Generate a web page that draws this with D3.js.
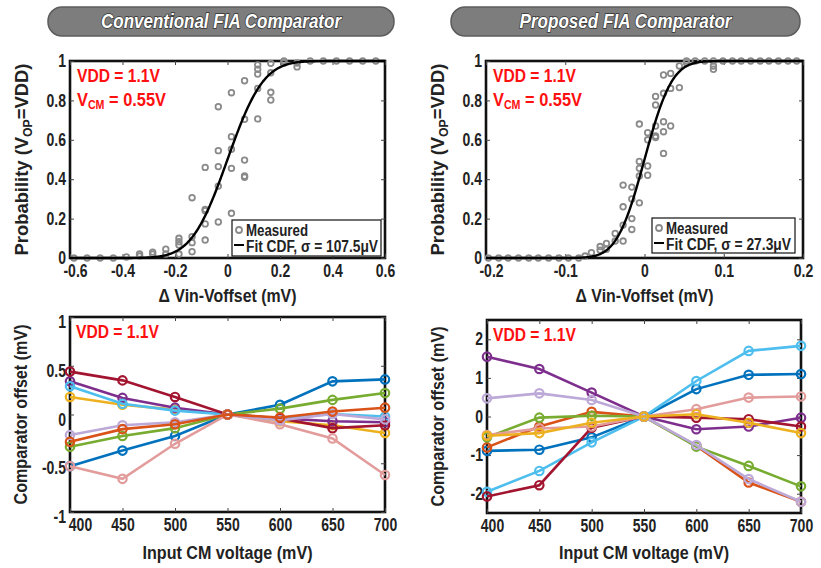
<!DOCTYPE html>
<html>
<head>
<meta charset="utf-8">
<script src="https://cdn.jsdelivr.net/npm/d3@7"></script>
<style>
  body { margin: 0; background: #fff; }
  text { font-family: "Liberation Sans Narrow", "Arial Narrow", "Liberation Sans", Arial, sans-serif; font-weight: bold; }
</style>
</head>
<body>
<svg id="chart" width="821" height="568"></svg>
<script>
// ---- data ----
const convXTicks = [-0.6, -0.4, -0.2, 0, 0.2, 0.4, 0.6];
const propXTicks = [-0.2, -0.1, 0, 0.1, 0.2];
const probTicks = [0, 0.2, 0.4, 0.6, 0.8, 1];
const cmVoltage = [400, 450, 500, 550, 600, 650, 700];
const convOffTicks = [-1, -0.5, 0, 0.5, 1];
const propOffTicks = [-2, -1, 0, 1, 2];

const convSigma = 0.1075;   // mV
const propSigma = 0.0273;   // mV

// measured probability, conventional comparator [dVin (mV), P]
const convMeasured = [
  [-0.585, 0], [-0.535, 0], [-0.485, 0], [-0.435, 0], [-0.385, 0.005],
  [-0.335, 0.02], [-0.335, 0.01], [-0.285, 0.03], [-0.285, 0.02],
  [-0.235, 0.045], [-0.235, 0.02],
  [-0.185, 0.10], [-0.185, 0.083], [-0.185, 0.066], [-0.185, 0.02],
  [-0.135, 0.306], [-0.135, 0.108], [-0.135, 0.078], [-0.135, 0.032],
  [-0.085, 0.46], [-0.085, 0.247], [-0.085, 0.24], [-0.085, 0.173], [-0.085, 0.091],
  [-0.035, 0.768], [-0.035, 0.545], [-0.035, 0.464], [-0.035, 0.365], [-0.035, 0.183],
  [0.015, 0.839], [0.015, 0.616], [0.015, 0.552], [0.015, 0.455], [0.015, 0.227],
  [0.065, 0.90], [0.065, 0.704], [0.065, 0.497], [0.065, 0.416], [0.065, 0.41],
  [0.115, 0.98], [0.115, 0.958], [0.115, 0.934], [0.115, 0.861], [0.115, 0.706],
  [0.165, 0.988], [0.165, 0.94], [0.165, 0.841], [0.165, 0.802],
  [0.215, 1], [0.215, 0.99], [0.265, 0.99], [0.265, 0.97],
  [0.315, 1], [0.365, 1], [0.415, 1], [0.465, 1], [0.515, 1], [0.565, 1]
];

// measured probability, proposed comparator [dVin (mV), P]
const propMeasured = [
  [-0.197, 0], [-0.184, 0], [-0.172, 0], [-0.159, 0], [-0.146, 0], [-0.134, 0],
  [-0.121, 0], [-0.108, 0], [-0.096, 0], [-0.083, 0], [-0.075, 0.01],
  [-0.067, 0.027], [-0.056, 0.058], [-0.056, 0.04], [-0.048, 0.074], [-0.048, 0.044],
  [-0.037, 0.125], [-0.037, 0.086],
  [-0.027, 0.37], [-0.027, 0.26], [-0.027, 0.167], [-0.027, 0.086],
  [-0.016, 0.36], [-0.016, 0.30], [-0.016, 0.20], [-0.016, 0.145],
  [-0.0065, 0.68], [-0.0065, 0.49], [-0.0065, 0.455], [-0.0065, 0.416], [-0.0065, 0.28],
  [0.004, 0.636], [0.004, 0.60], [0.004, 0.467], [0.004, 0.42],
  [0.014, 0.82], [0.014, 0.777], [0.014, 0.67], [0.014, 0.619], [0.014, 0.612],
  [0.024, 0.929], [0.024, 0.836], [0.024, 0.692], [0.024, 0.641], [0.024, 0.531],
  [0.033, 0.937], [0.033, 0.861], [0.033, 0.67],
  [0.044, 0.975], [0.044, 0.865], [0.053, 1], [0.053, 0.99],
  [0.064, 1], [0.076, 1], [0.087, 1], [0.087, 0.975], [0.087, 0.958],
  [0.099, 1], [0.111, 1], [0.122, 1], [0.134, 1], [0.146, 1], [0.157, 1],
  [0.169, 1], [0.181, 1], [0.192, 1]
];

// comparator offset (mV) vs input CM voltage, one row per chip
const convOffset = [
  [-0.53, -0.37, -0.22, 0, 0.10, 0.34, 0.36],
  [0.18, 0.10, 0.05, 0, -0.07, -0.11, -0.19],
  [0.34, 0.17, 0.07, 0, -0.04, -0.07, -0.08],
  [-0.33, -0.22, -0.14, 0, 0.06, 0.15, 0.22],
  [0.29, 0.11, 0.04, 0, -0.04, 0.005, -0.02],
  [0.44, 0.35, 0.18, 0, -0.04, -0.14, -0.11],
  [-0.53, -0.66, -0.30, 0, -0.10, -0.245, -0.62],
  [-0.21, -0.11, -0.08, 0, -0.06, 0.005, -0.05],
  [-0.28, -0.15, -0.10, 0, -0.03, 0.03, 0.07]
];
const propOffset = [
  [-0.89, -0.86, -0.54, 0, 0.71, 1.08, 1.10],
  [-0.80, -0.26, 0.12, 0, -0.76, -1.71, -2.21],
  [1.55, 1.23, 0.62, 0, -0.33, -0.26, -0.03],
  [-0.54, -0.03, 0.02, 0, -0.78, -1.28, -1.81],
  [-1.95, -1.41, -0.67, 0, 0.92, 1.70, 1.83],
  [-2.07, -1.78, -0.29, 0, -0.03, -0.07, -0.26],
  [-0.48, -0.31, -0.26, 0, 0.19, 0.49, 0.52],
  [0.47, 0.60, 0.43, 0, -0.74, -1.62, -2.21],
  [-0.50, -0.43, -0.16, 0, 0.06, -0.16, -0.43]
];
const convColors = ["#0072BD", "#EDB120", "#7E2F8E", "#77AC30", "#4DBEEE", "#A2142F", "#E39C9C", "#BDA9D8", "#D95319"];
const propColors = ["#0072BD", "#D95319", "#7E2F8E", "#77AC30", "#4DBEEE", "#A2142F", "#E39C9C", "#BDA9D8", "#EDB120"];

// ---- drawing ----
const svg = d3.select("#chart");
const ink = "#222";
const fmt = d => String(d);

// no narrow font installed: squeeze text horizontally
function squeeze(sel, f) {
  sel.each(function () {
    const L = this.getComputedTextLength();
    d3.select(this).attr("textLength", L * f).attr("lengthAdjust", "spacingAndGlyphs");
  });
  return sel;
}
function fitWidth(sel, w) {
  return sel.attr("textLength", w).attr("lengthAdjust", "spacingAndGlyphs");
}

function erf(v) {
  const s = Math.sign(v), a = Math.abs(v);
  const t = 1 / (1 + 0.3275911 * a);
  const p = 1 - (((((1.061405429 * t - 1.453152027) * t) + 1.421413741) * t - 0.284496736) * t + 0.254829592) * t * Math.exp(-a * a);
  return s * p;
}
const normCdf = (v, sigma) => 0.5 * (1 + erf(v / (sigma * Math.SQRT2)));

function makePanel(p) {
  const g = svg.append("g");
  const x = d3.scaleLinear().domain(p.xDomain).range([p.left, p.right]);
  const y = d3.scaleLinear().domain(p.yDomain).range([p.bottom, p.top]);

  g.append("rect")
    .attr("x", p.left).attr("y", p.top)
    .attr("width", p.right - p.left).attr("height", p.bottom - p.top)
    .attr("fill", "none").attr("stroke", "#111").attr("stroke-width", 2.6);

  const xl = g.append("g").attr("transform", `translate(0,${p.bottom})`)
    .call(d3.axisBottom(x).tickValues(p.xTicks).tickSize(-4).tickPadding(7).tickFormat(fmt));
  g.append("g").attr("transform", `translate(0,${p.top})`)
    .call(d3.axisTop(x).tickValues(p.xTicks).tickSize(-4).tickFormat(""));
  const yl = g.append("g").attr("transform", `translate(${p.left},0)`)
    .call(d3.axisLeft(y).tickValues(p.yTicks).tickSize(-4).tickPadding(4).tickFormat(fmt));
  g.append("g").attr("transform", `translate(${p.right},0)`)
    .call(d3.axisRight(y).tickValues(p.yTicks).tickSize(-4).tickFormat(""));

  g.selectAll(".domain").remove();
  g.selectAll(".tick line").attr("stroke", "#444");
  const labels = g.selectAll(".tick text")
    .attr("font-family", null)
    .attr("font-size", 17.5)
    .attr("fill", ink);
  squeeze(labels.filter(function () { return this.textContent !== ""; }), 0.8);
  if (p.yLabelShift) yl.selectAll(".tick text").attr("transform", `translate(0,${p.yLabelShift})`);
  if (p.firstXShift) xl.selectAll(".tick text").filter((d, i) => i === 0).attr("dx", p.firstXShift);
  return { g, x, y };
}

function vddNote(g, x, y, withVcm) {
  fitWidth(g.append("text").attr("x", x).attr("y", y).attr("fill", "#ff1010").attr("font-size", 18.5)
    .text("VDD = 1.1V"), 83);
  if (withVcm) {
    const t = g.append("text").attr("x", x).attr("y", y + 24).attr("fill", "#ff1010").attr("font-size", 18.5);
    t.append("tspan").text("V");
    t.append("tspan").attr("font-size", 12).attr("dy", 3).text("CM");
    t.append("tspan").attr("dy", -3).text(" = 0.55V");
    fitWidth(t, 89);
  }
}

function probPanel(p, data, sigma, sigmaText, leg) {
  const { g, x, y } = makePanel(p);
  g.append("g").selectAll("circle").data(data).enter().append("circle")
    .attr("cx", d => x(d[0])).attr("cy", d => y(d[1])).attr("r", 2.8)
    .attr("fill", "none").attr("stroke", "#8a8a8a").attr("stroke-width", 1.8);

  const grid = d3.range(p.xDomain[0], p.xDomain[1] + 1e-9, (p.xDomain[1] - p.xDomain[0]) / 400);
  g.append("path").datum(grid)
    .attr("fill", "none").attr("stroke", "#000").attr("stroke-width", 2.4)
    .attr("d", d3.line().x(d => x(d)).y(d => y(normCdf(d, sigma))));

  vddNote(g, p.left + 7, p.top + 21, true);

  // legend
  const lg = g.append("g");
  lg.append("rect").attr("x", leg.x).attr("y", leg.y).attr("width", leg.w).attr("height", leg.h)
    .attr("fill", "#fff").attr("stroke", "#111").attr("stroke-width", 1.2);
  lg.append("circle").attr("cx", leg.x + 7).attr("cy", leg.y + 10).attr("r", 3)
    .attr("fill", "none").attr("stroke", "#8a8a8a").attr("stroke-width", 1.8);
  lg.append("line").attr("x1", leg.x + 2).attr("x2", leg.x + 12)
    .attr("y1", leg.y + 25).attr("y2", leg.y + 25).attr("stroke", "#000").attr("stroke-width", 2);
  fitWidth(lg.append("text").attr("x", leg.x + 14).attr("y", leg.y + 16).attr("font-size", 16).attr("fill", ink)
    .text("Measured"), 62);
  fitWidth(lg.append("text").attr("x", leg.x + 14).attr("y", leg.y + 32).attr("font-size", 16).attr("fill", ink)
    .text("Fit CDF, \u03c3 = " + sigmaText), leg.tw);

  // axis titles
  fitWidth(g.append("text").attr("x", (p.left + p.right) / 2).attr("y", 302).attr("text-anchor", "middle")
    .attr("font-size", 18).attr("fill", ink).text("\u0394 Vin-Voffset (mV)"), 138);
  const yt = g.append("text").attr("transform", `translate(${p.left - 42},${(p.top + p.bottom) / 2}) rotate(-90)`)
    .attr("text-anchor", "middle").attr("font-size", 18).attr("fill", ink);
  yt.append("tspan").text("Probability (V");
  yt.append("tspan").attr("font-size", 12).attr("dy", 4).text("OP");
  yt.append("tspan").attr("dy", -4).text("=VDD)");
  fitWidth(yt, 192);
}

function offsetPanel(p, rows, colors) {
  const { g, x, y } = makePanel(p);
  const line = d3.line().x((d, i) => x(cmVoltage[i])).y(d => y(d));
  rows.forEach((row, k) => {
    const s = g.append("g");
    s.append("path").datum(row).attr("fill", "none").attr("stroke", colors[k])
      .attr("stroke-width", 2.6).attr("d", line);
    s.selectAll("circle").data(row).enter().append("circle")
      .attr("cx", (d, i) => x(cmVoltage[i])).attr("cy", d => y(d)).attr("r", 4.2)
      .attr("fill", "none").attr("stroke", colors[k]).attr("stroke-width", 2.2);
  });
  vddNote(g, p.left + 6, p.top + 21, false);
  fitWidth(g.append("text").attr("x", (p.left + p.right) / 2).attr("y", 559).attr("text-anchor", "middle")
    .attr("font-size", 18).attr("fill", ink).text("Input CM voltage (mV)"), 170);
  fitWidth(g.append("text").attr("transform", `translate(${p.left - 43},${(p.top + p.bottom) / 2}) rotate(-90)`)
    .attr("text-anchor", "middle").attr("font-size", 18).attr("fill", ink).text("Comparator offset (mV)"), 180);
}

// titles
function titlePill(x0, x1, label, w) {
  const g = svg.append("g");
  g.append("rect").attr("x", x0).attr("y", 7).attr("width", x1 - x0).attr("height", 29).attr("rx", 14)
    .attr("fill", "#7d7d7d").attr("stroke", "#5c5c5c").attr("stroke-width", 1.5);
  fitWidth(g.append("text").attr("x", (x0 + x1) / 2).attr("y", 28).attr("text-anchor", "middle")
    .attr("font-size", 20).attr("font-style", "italic").attr("fill", "#fff")
    .attr("stroke", "#333").attr("stroke-width", 1.6).attr("paint-order", "stroke")
    .text(label), w);
}
titlePill(48, 394, "Conventional FIA Comparator", 240);
titlePill(451, 800, "Proposed FIA Comparator", 212);

probPanel({ left: 70, right: 385, top: 61, bottom: 258, xDomain: [-0.6, 0.6], yDomain: [0, 1],
            xTicks: convXTicks, yTicks: probTicks, firstXShift: 5 },
          convMeasured, convSigma, "107.5\u03bcV", { x: 232, y: 220, w: 149, h: 36, tw: 132 });
probPanel({ left: 486, right: 803, top: 61, bottom: 258, xDomain: [-0.2, 0.2], yDomain: [0, 1],
            xTicks: propXTicks, yTicks: probTicks, firstXShift: 5 },
          propMeasured, propSigma, "27.3\u03bcV", { x: 652, y: 218, w: 143, h: 35, tw: 125 });
offsetPanel({ left: 70, right: 385, top: 317, bottom: 512, xDomain: [400, 700], yDomain: [-1, 1],
              xTicks: cmVoltage, yTicks: convOffTicks, yLabelShift: 5, firstXShift: 10 }, convOffset, convColors);
offsetPanel({ left: 487, right: 801, top: 320, bottom: 513, xDomain: [400, 700], yDomain: [-2.5, 2.5],
              xTicks: cmVoltage, yTicks: propOffTicks, firstXShift: 5 }, propOffset, propColors);
</script>
</body>
</html>
